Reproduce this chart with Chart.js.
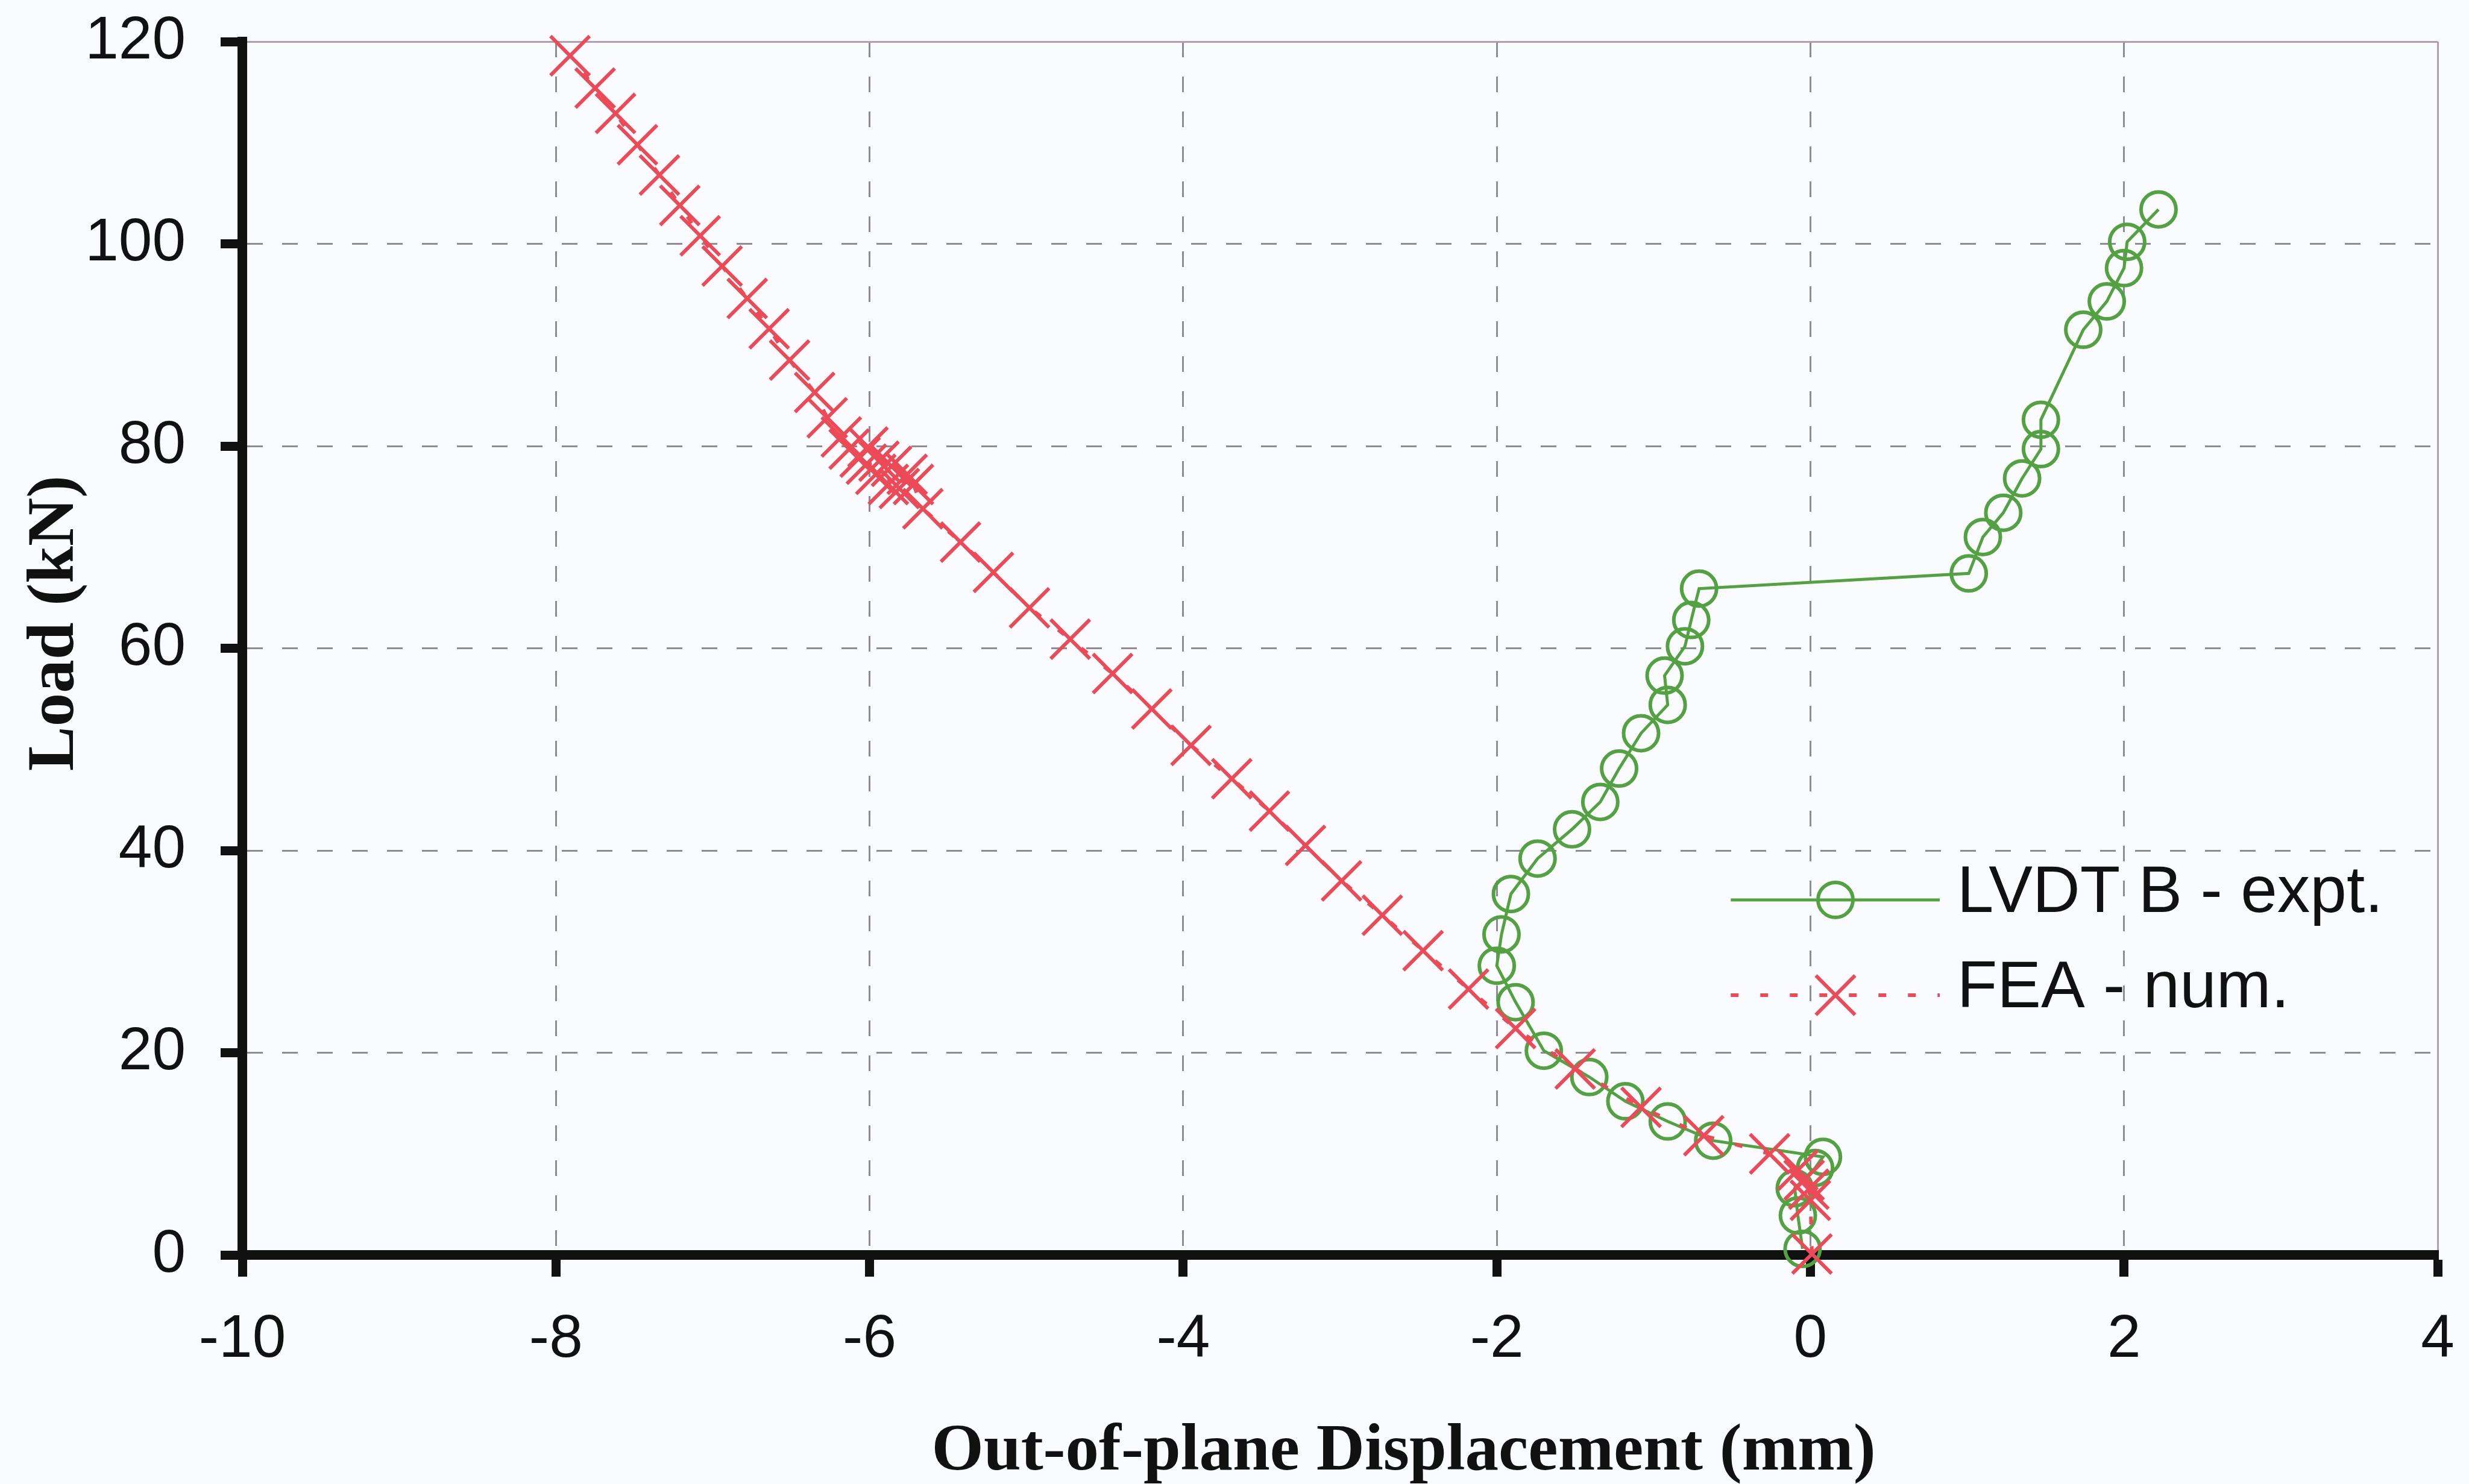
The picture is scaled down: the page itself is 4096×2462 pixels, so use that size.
<!DOCTYPE html>
<html>
<head>
<meta charset="utf-8">
<script src="https://cdn.jsdelivr.net/npm/chart.js@4.4.1/dist/chart.umd.min.js"></script>
<style>
  html, body { margin: 0; padding: 0; background: #fafbfe; }
  canvas { display: block; }
</style>
</head>
<body>
<canvas id="c" width="4096" height="2462"></canvas>
<script>
// ---- data ----
const xTickValues = [-10, -8, -6, -4, -2, 0, 2, 4];
const xTickLabels = ['-10', '-8', '-6', '-4', '-2', '0', '2', '4'];
const yTickValues = [0, 20, 40, 60, 80, 100, 120];
const yTickLabels = ['0', '20', '40', '60', '80', '100', '120'];
const seriesNames = ['LVDT B - expt.', 'FEA - num.'];
const xTitle = 'Out-of-plane Displacement (mm)';
const yTitle = 'Load (kN)';

// LVDT B - experimental (displacement mm, load kN)
const lvdtDisp = [-0.05, -0.08, -0.10, 0.03, 0.08, -0.62, -0.91, -1.18, -1.41, -1.70, -1.88, -2.00, -1.97, -1.91, -1.74, -1.52, -1.34, -1.22, -1.08, -0.91, -0.93, -0.80, -0.76, -0.71, 1.01, 1.10, 1.23, 1.35, 1.47, 1.47, 1.74, 1.89, 2.00, 2.02, 2.22];
const lvdtLoad = [0.6, 3.9, 6.6, 8.6, 9.7, 11.3, 13.2, 15.2, 17.6, 20.2, 25.0, 28.6, 31.7, 35.7, 39.2, 42.1, 44.8, 48.1, 51.6, 54.4, 57.3, 60.2, 62.8, 65.9, 67.4, 71.0, 73.4, 76.8, 79.7, 82.6, 91.5, 94.3, 97.6, 100.2, 103.4];

// FEA - numerical (displacement mm, load kN)
const feaDisp = [0.01, 0.00, -0.01, -0.04, -0.08, -0.26, -0.68, -1.08, -1.50, -1.88, -2.18, -2.47, -2.73, -2.99, -3.22, -3.45, -3.69, -3.95, -4.20, -4.45, -4.72, -4.98, -5.21, -5.42, -5.66, -5.72, -5.81, -5.76, -5.88, -5.86, -5.96, -5.94, -6.02, -6.01, -6.06, -6.13, -6.18, -6.27, -6.35, -6.51, -6.64, -6.78, -6.94, -7.08, -7.21, -7.34, -7.48, -7.62, -7.75, -7.91];
const feaLoad = [0.1, 5.4, 6.5, 7.4, 8.4, 10.0, 11.8, 14.6, 18.4, 22.4, 26.3, 30.1, 33.6, 37.0, 40.5, 43.9, 47.1, 50.4, 54.0, 57.5, 60.9, 64.0, 67.5, 70.5, 73.8, 76.2, 75.8, 77.2, 76.2, 78.0, 77.2, 78.5, 78.2, 79.9, 78.9, 79.7, 80.9, 82.8, 85.3, 88.5, 91.6, 94.6, 97.8, 100.8, 103.8, 106.8, 109.8, 112.9, 115.4, 118.6];

// ---- styles ----
const GREEN = '#53a241';
const RED = '#ec4a56';
const AXIS = '#111111';
const GRID = '#8e8a96';
const FRAME = '#ad9db5';

const toPoints = (xs, ys) => xs.map((x, i) => ({ x: x, y: ys[i] }));

const gridDash = [26, 32];

const axisTitlePlugin = {
  id: 'axisTitles',
  afterDraw(chart) {
    const { ctx, chartArea: a } = chart;
    ctx.save();
    ctx.fillStyle = AXIS;
    ctx.font = 'bold 111px "Liberation Serif", "Times New Roman", serif';
    ctx.textAlign = 'center';
    ctx.textBaseline = 'alphabetic';
    ctx.fillText(xTitle, a.left + 0.5290 * (a.right - a.left), chart.height - 24);
    ctx.translate(121, a.top + 0.4794 * (a.bottom - a.top));
    ctx.rotate(-Math.PI / 2);
    ctx.fillText(yTitle, 0, 0);
    ctx.restore();
  }
};

const insideLegendPlugin = {
  id: 'insideLegend',
  afterDatasetsDraw(chart) {
    const { ctx, chartArea: a } = chart;
    const w = a.right - a.left, h = a.bottom - a.top;
    const x0 = a.left + 0.678 * w, x1 = a.left + 0.7732 * w;
    const xm = a.left + 0.7257 * w, xt = a.left + 0.7811 * w;
    const rowsY = [a.top + 0.7074 * h, a.top + 0.7859 * h];
    chart.data.datasets.forEach((ds, i) => {
      const y = rowsY[i];
      ctx.save();
      ctx.strokeStyle = ds.borderColor;
      ctx.lineWidth = ds.borderWidth;
      ctx.setLineDash(ds.borderDash || []);
      ctx.beginPath();
      ctx.moveTo(x0, y);
      ctx.lineTo(x1, y);
      ctx.stroke();
      ctx.setLineDash([]);
      ctx.strokeStyle = ds.pointBorderColor;
      ctx.lineWidth = ds.pointBorderWidth;
      ctx.beginPath();
      if (ds.pointStyle === 'circle') {
        ctx.arc(xm, y, ds.pointRadius, 0, Math.PI * 2);
      } else {
        const r = ds.pointRadius * Math.SQRT1_2;
        ctx.moveTo(xm - r, y - r); ctx.lineTo(xm + r, y + r);
        ctx.moveTo(xm - r, y + r); ctx.lineTo(xm + r, y - r);
      }
      ctx.stroke();
      ctx.fillStyle = AXIS;
      ctx.font = '109px "Liberation Sans", Arial, sans-serif';
      ctx.textAlign = 'left';
      ctx.textBaseline = 'alphabetic';
      ctx.fillText(ds.label, xt, y + 20);
      ctx.restore();
    });
  }
};

new Chart(document.getElementById('c'), {
  type: 'scatter',
  data: {
    datasets: [
      {
        label: seriesNames[0],
        data: toPoints(lvdtDisp, lvdtLoad),
        showLine: true,
        borderColor: GREEN,
        borderWidth: 5,
        pointStyle: 'circle',
        pointRadius: 29,
        pointBorderWidth: 6,
        pointBorderColor: GREEN,
        pointBackgroundColor: 'rgba(0,0,0,0)',
        tension: 0,
        clip: false,
        order: 2
      },
      {
        label: seriesNames[1],
        data: toPoints(feaDisp, feaLoad),
        showLine: true,
        borderColor: RED,
        borderWidth: 6,
        borderDash: [13, 36],
        pointStyle: 'crossRot',
        pointRadius: 46,
        pointBorderWidth: 6,
        pointBorderColor: RED,
        pointBackgroundColor: RED,
        tension: 0,
        clip: false,
        order: 1
      }
    ]
  },
  options: {
    responsive: false,
    animation: false,
    devicePixelRatio: 1,
    layout: { padding: { top: 69, right: 36, bottom: 0, left: 0 } },
    plugins: {
      legend: { display: false },
      tooltip: { enabled: false },
      title: { display: false }
    },
    scales: {
      x: {
        type: 'linear',
        position: 'bottom',
        min: xTickValues[0],
        max: xTickValues[xTickValues.length - 1],
        afterBuildTicks: (s) => { s.ticks = xTickValues.map(v => ({ value: v })); },
        afterFit: (s) => { s.height = 380; s.paddingLeft = 0; s.paddingRight = 0; },
        ticks: {
          color: AXIS,
          font: { family: '"Liberation Sans", Arial, sans-serif', size: 100 },
          padding: 45,
          maxRotation: 0,
          autoSkip: false,
          callback: (v) => xTickLabels[xTickValues.indexOf(v)]
        },
        grid: {
          color: (c) => (c.tick && c.tick.value === 4) ? FRAME : GRID,
          lineWidth: 3,
          drawTicks: true,
          tickLength: 36,
          tickWidth: 15,
          tickColor: AXIS
        },
        border: {
          display: true,
          color: AXIS,
          width: 16,
          dash: (c) => (c.tick && c.tick.value === 4) ? [] : gridDash
        },
        title: { display: false }
      },
      y: {
        type: 'linear',
        position: 'left',
        min: yTickValues[0],
        max: yTickValues[yTickValues.length - 1],
        afterBuildTicks: (s) => { s.ticks = yTickValues.map(v => ({ value: v })); },
        afterFit: (s) => { s.width = 402; s.paddingTop = 0; s.paddingBottom = 0; },
        ticks: {
          color: AXIS,
          font: { family: '"Liberation Sans", Arial, sans-serif', size: 100 },
          padding: 58,
          autoSkip: false,
          callback: (v) => yTickLabels[yTickValues.indexOf(v)]
        },
        grid: {
          color: (c) => (c.tick && c.tick.value === 120) ? FRAME : GRID,
          lineWidth: 3,
          drawTicks: true,
          tickLength: 36,
          tickWidth: 15,
          tickColor: AXIS
        },
        border: {
          display: true,
          color: AXIS,
          width: 16,
          dash: (c) => (c.tick && c.tick.value === 120) ? [] : gridDash
        },
        title: { display: false }
      }
    }
  },
  plugins: [axisTitlePlugin, insideLegendPlugin]
});
</script>
</body>
</html>
